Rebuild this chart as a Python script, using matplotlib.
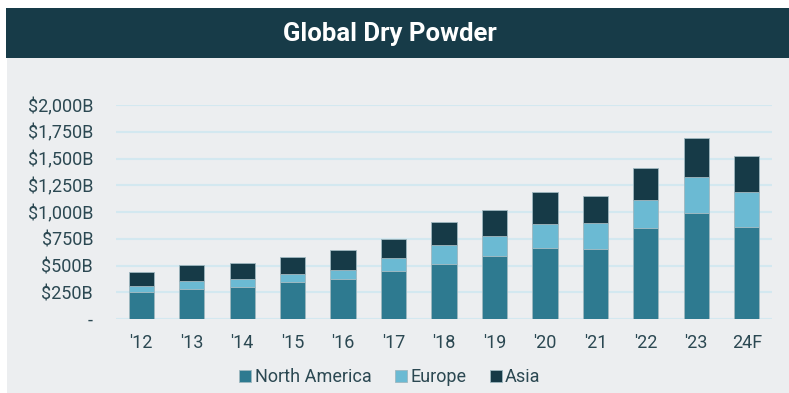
import numpy as np
import matplotlib.pyplot as plt
from matplotlib.patches import Rectangle

years = ["'12", "'13", "'14", "'15", "'16", "'17", "'18", "'19", "'20", "'21", "'22", "'23", "24F"]
north_america = [248, 280, 302, 346, 377, 452, 514, 592, 667, 657, 847, 993, 863]
europe = [56, 75, 69, 75, 81, 118, 174, 184, 221, 237, 262, 337, 324]
asia = [134, 147, 155, 155, 184, 178, 219, 240, 296, 256, 305, 359, 333]
yticks = [0, 250, 500, 750, 1000, 1250, 1500, 1750, 2000]

plt.rcParams['font.family'] = ['Roboto', 'DejaVu Sans']

c_na = '#2E7A90'
c_eu = '#6BBAD3'
c_as = '#163A47'
c_txt = '#2B4852'

fig = plt.figure(figsize=(7.89, 3.93), dpi=100)
fig.patch.set_facecolor('white')
W, H = 789, 393

# grey panel and title banner
fig.patches.append(Rectangle((7 / W, 0), 1 - 7 / W, 1 - 58 / H, transform=fig.transFigure,
                             facecolor='#ECEEF0', edgecolor='none', zorder=-2))
fig.patches.append(Rectangle((6 / W, 1 - 58 / H), 1 - 6 / W, 50 / H, transform=fig.transFigure,
                             facecolor='#173B48', edgecolor='none', zorder=-2))
fig.text(390 / W, 1 - 34 / H, 'Global Dry Powder', color='white', fontsize=18.5,
         fontweight='bold', ha='center', va='center')

ax = fig.add_axes([116 / W, 1 - 319 / H, (772 - 116) / W, 214 / H])
ax.set_facecolor('none')
ax.set_zorder(2)

x = np.arange(len(years))
na = np.array(north_america)
eu = np.array(europe)
asn = np.array(asia)
ec = '#9FB8C0'
ax.bar(x, na, width=0.5, color=c_na, edgecolor=ec, linewidth=0.6, label='North America', zorder=3)
ax.bar(x, eu, width=0.5, bottom=na, color=c_eu, edgecolor=ec, linewidth=0.6, label='Europe', zorder=3)
ax.bar(x, asn, width=0.5, bottom=na + eu, color=c_as, edgecolor=ec, linewidth=0.6, label='Asia', zorder=3)

ax.set_xlim(-0.5, len(years) - 0.5)
ax.set_ylim(0, 2000)
ax.set_yticks(yticks)
ax.set_yticklabels(['-'] + ['${:,}B'.format(v) for v in yticks[1:]])
ax.set_xticks(x)
ax.set_xticklabels(years)
ax.yaxis.grid(True, color='#D3E8F0', linewidth=1.5, zorder=0)
ax.set_axisbelow(True)
for s in ax.spines.values():
    s.set_visible(False)
ax.tick_params(axis='both', length=0, labelsize=13, colors=c_txt)
ax.tick_params(axis='y', pad=16.5)
ax.tick_params(axis='x', pad=11)

fig.legend(loc='center', bbox_to_anchor=(390 / W, 1 - 377 / H), ncol=3, frameon=False,
           fontsize=13, handlelength=0.65, handleheight=0.65, handletextpad=0.2,
           columnspacing=1.3, labelcolor=c_txt)

fig.savefig('out.png', dpi=100)
